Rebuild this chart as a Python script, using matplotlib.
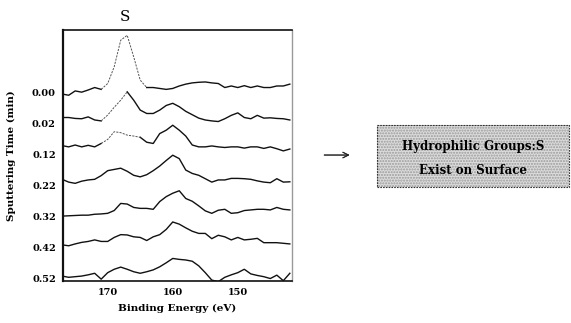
import numpy as np
import matplotlib
matplotlib.use("Agg")
import matplotlib.pyplot as plt
from matplotlib.patches import Rectangle

# Binding energy grid (eV) and sputtering times
energia = np.arange(177, 141, -1)
tiempos = ['0.00', '0.02', '0.12', '0.22', '0.32', '0.42', '0.52']

# S 2p spectra, offsets above each baseline (arbitrary units)
s_000 = [-0.04, -0.08, 0.06, 0.02, 0.09, 0.17, 0.11, 0.30, 0.84, 1.70, 1.86, 1.16,
         0.41, 0.17, 0.17, 0.14, 0.11, 0.14, 0.22, 0.28, 0.32, 0.34, 0.35, 0.32,
         0.30, 0.17, 0.22, 0.17, 0.23, 0.17, 0.22, 0.17, 0.17, 0.22, 0.22, 0.28]
s_002 = [0.20, 0.20, 0.17, 0.16, 0.22, 0.12, 0.09, 0.28, 0.53, 0.76, 1.03, 0.76,
         0.44, 0.33, 0.33, 0.44, 0.59, 0.66, 0.55, 0.40, 0.29, 0.18, 0.12, 0.09,
         0.07, 0.16, 0.27, 0.35, 0.20, 0.16, 0.27, 0.18, 0.19, 0.17, 0.16, 0.12]
s_012 = [0.29, 0.25, 0.31, 0.25, 0.30, 0.25, 0.36, 0.49, 0.74, 0.71, 0.63, 0.60,
         0.56, 0.40, 0.36, 0.68, 0.79, 0.95, 0.79, 0.60, 0.31, 0.25, 0.25, 0.28,
         0.25, 0.23, 0.25, 0.25, 0.21, 0.25, 0.25, 0.20, 0.25, 0.19, 0.12, 0.18]
s_022 = [0.20, 0.11, 0.07, 0.14, 0.18, 0.20, 0.32, 0.48, 0.52, 0.56, 0.46, 0.33,
         0.28, 0.35, 0.48, 0.63, 0.81, 0.98, 0.87, 0.50, 0.39, 0.33, 0.22, 0.11,
         0.18, 0.18, 0.23, 0.23, 0.22, 0.20, 0.15, 0.11, 0.09, 0.22, 0.11, 0.12]
s_032 = [0.01, 0.02, 0.03, 0.04, 0.04, 0.07, 0.08, 0.10, 0.19, 0.42, 0.40, 0.29,
         0.26, 0.26, 0.23, 0.48, 0.64, 0.75, 0.83, 0.58, 0.49, 0.34, 0.18, 0.10,
         0.20, 0.23, 0.10, 0.12, 0.19, 0.21, 0.23, 0.23, 0.21, 0.29, 0.23, 0.21]
s_042 = [0.08, 0.05, 0.11, 0.16, 0.19, 0.24, 0.19, 0.19, 0.32, 0.41, 0.40, 0.34,
         0.32, 0.22, 0.34, 0.41, 0.58, 0.82, 0.75, 0.63, 0.52, 0.45, 0.45, 0.28,
         0.39, 0.34, 0.24, 0.32, 0.24, 0.26, 0.29, 0.15, 0.15, 0.15, 0.13, 0.11]
s_052 = [0.07, 0.03, 0.05, 0.07, 0.11, 0.16, -0.03, 0.18, 0.29, 0.36, 0.29, 0.21,
         0.16, 0.21, 0.27, 0.37, 0.50, 0.64, 0.61, 0.59, 0.55, 0.40, 0.18, -0.06,
         -0.11, 0.03, 0.11, 0.18, 0.29, 0.14, 0.09, 0.05, -0.01, 0.10, -0.08, 0.16]
espectros = [s_000, s_002, s_012, s_022, s_032, s_042, s_052]

# energy range of the faint (dotted) peak segment in the first three spectra
tramo_punteado = {0: (171, 164), 1: (171, 167), 2: (171, 165)}

plt.rcParams['font.family'] = ['DejaVu Serif']

fig = plt.figure(figsize=(5.71, 3.23), dpi=100)
ax = fig.add_axes([0.110, 0.130, 0.401, 0.777])

n = len(tiempos)
for i, s in enumerate(espectros):
    base = n - 1 - i
    y = base + np.array(s)
    if i in tramo_punteado:
        e_hi, e_lo = tramo_punteado[i]
        dentro = (energia <= e_hi) & (energia >= e_lo)
        bordes = (energia == e_hi) | (energia == e_lo)
        y_sol = np.where(dentro & ~bordes, np.nan, y)
        ax.plot(energia, y_sol, color='#111111', lw=1.0)
        ax.plot(energia[dentro], y[dentro], color='#555555', lw=0.7, ls=(0, (2.2, 1.2)))
    else:
        ax.plot(energia, y, color='#111111', lw=1.0)

ax.set_xlim(176.9, 141.7)
ax.set_ylim(-0.09, 8.03)
ax.set_xticks([170, 160, 150])
ax.set_yticks(np.arange(n - 1, -1, -1))
ax.set_yticklabels(tiempos)
ax.tick_params(length=0, labelsize=7, pad=5)
for lab in ax.get_xticklabels() + ax.get_yticklabels():
    lab.set_fontweight('bold')

for lado in ['left', 'top', 'bottom']:
    ax.spines[lado].set_color('#111111')
ax.spines['left'].set_linewidth(1.6)
ax.spines['top'].set_linewidth(1.2)
ax.spines['bottom'].set_linewidth(1.2)
ax.spines['right'].set_color('#999999')
ax.spines['right'].set_linewidth(1.0)

ax.set_xlabel('Binding Energy (eV)', fontsize=7.5, fontweight='bold', labelpad=5)
ax.set_ylabel('Sputtering Time (min)', fontsize=7.5, fontweight='bold')
ax.yaxis.set_label_coords(-0.205, 0.5)

ax.text(167.3, 1.025, 'S', transform=ax.get_xaxis_transform(), ha='center', va='bottom',
        fontsize=11)

# arrow and annotation box
fig.add_artist(plt.annotate('', xy=(0.617, 0.520), xytext=(0.563, 0.520),
                            xycoords='figure fraction',
                            arrowprops=dict(arrowstyle='->', lw=0.7, color='#222222')))

caja = Rectangle((0.661, 0.420), 0.336, 0.193, transform=fig.transFigure,
                 facecolor='#dcdcdc', edgecolor='#9a9a9a', hatch='......', lw=0)
borde = Rectangle((0.661, 0.420), 0.336, 0.193, transform=fig.transFigure,
                  facecolor='none', edgecolor='#333333', lw=0.8, ls=(0, (1.5, 1)))
fig.add_artist(caja)
fig.add_artist(borde)
fig.text(0.829, 0.545, 'Hydrophilic Groups:S', ha='center', va='center',
         fontsize=8.5, fontweight='bold')
fig.text(0.829, 0.473, 'Exist on Surface', ha='center', va='center',
         fontsize=8.5, fontweight='bold')

fig.savefig('out.png', dpi=100)
